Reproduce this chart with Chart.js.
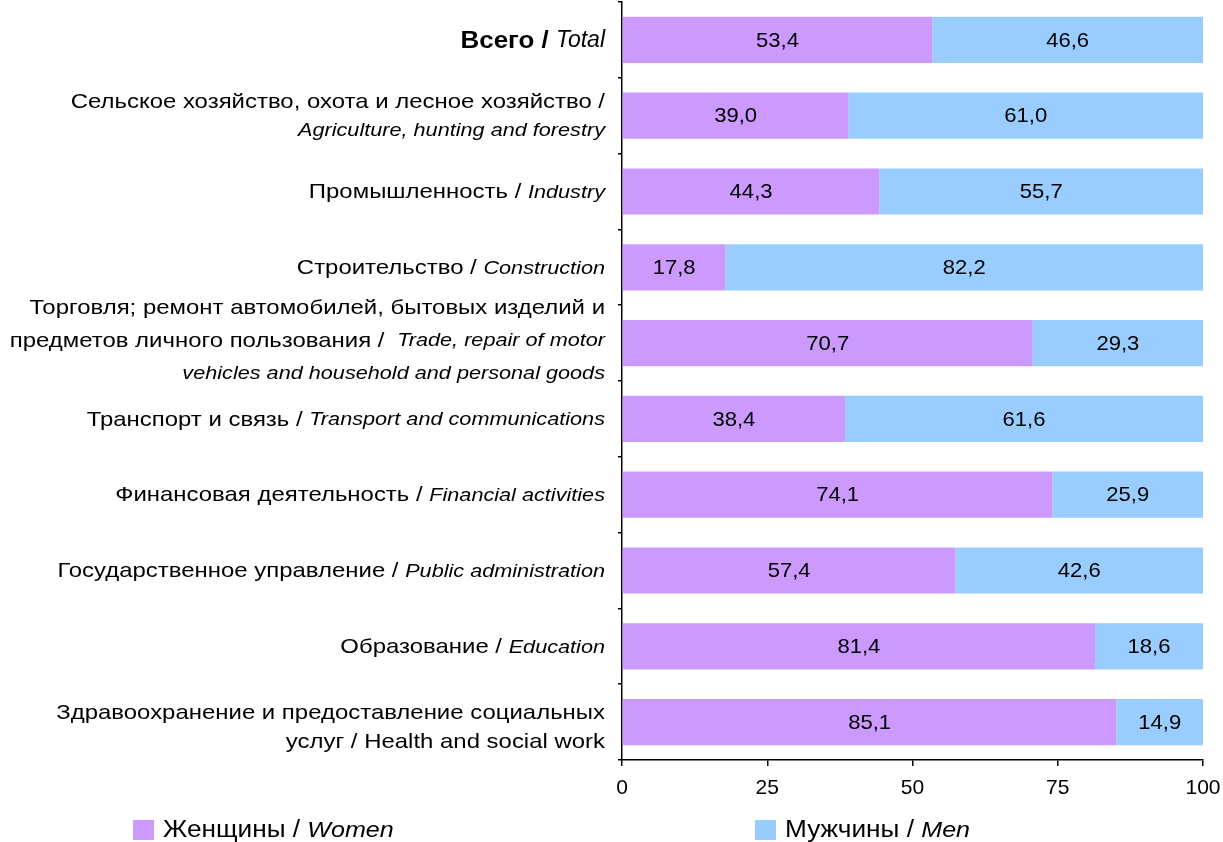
<!DOCTYPE html>
<html>
<head>
<meta charset="utf-8">
<script src="https://cdn.jsdelivr.net/npm/chart.js@4.4.1/dist/chart.umd.min.js"></script>
<style>
html,body{margin:0;padding:0;background:#fff;}
#wrap{position:relative;width:1223px;height:842px;}
</style>
</head>
<body>
<div id="wrap"><canvas id="c" width="1223" height="842"></canvas></div>
<script>
const categories = [
  "Всего / Total",
  "Сельское хозяйство, охота и лесное хозяйство / Agriculture, hunting and forestry",
  "Промышленность / Industry",
  "Строительство / Construction",
  "Торговля; ремонт автомобилей, бытовых изделий и предметов личного пользования / Trade, repair of motor vehicles and household and personal goods",
  "Транспорт и связь / Transport and communications",
  "Финансовая деятельность / Financial activities",
  "Государственное управление / Public administration",
  "Образование / Education",
  "Здравоохранение и предоставление социальных услуг / Health and social work"
];
const women = [53.4, 39.0, 44.3, 17.8, 70.7, 38.4, 74.1, 57.4, 81.4, 85.1];
const men   = [46.6, 61.0, 55.7, 82.2, 29.3, 61.6, 25.9, 42.6, 18.6, 14.9];
const xTicks = [0, 25, 50, 75, 100];
const seriesNames = [["Женщины / ", "Women"], ["Мужчины / ", "Men"]];

// label lines: each line = list of [text, style]; style r=regular, i=italic, b=bold, I=large italic
const labelLines = [
  [[["Всего / ","b"],["Total","I"]]],
  [[["Сельское хозяйство, охота и лесное хозяйство /","r"]],[["Agriculture, hunting and forestry","i"]]],
  [[["Промышленность / ","r"],["Industry","i"]]],
  [[["Строительство / ","r"],["Construction","i"]]],
  [[["Торговля; ремонт автомобилей, бытовых изделий и","r"]],[["предметов личного пользования / ","r"],[" Trade, repair of motor","i"]],[["vehicles and household and personal goods","i"]]],
  [[["Транспорт и связь / ","r"],["Transport and communications","i"]]],
  [[["Финансовая деятельность / ","r"],["Financial activities","i"]]],
  [[["Государственное управление / ","r"],["Public administration","i"]]],
  [[["Образование / ","r"],["Education","i"]]],
  [[["Здравоохранение и предоставление социальных","r"]],[["услуг / Health and social work","r"]]]
];

const FF = '"Liberation Sans", Arial, sans-serif';
const STYLES = {
  b: { font: 'bold 24px ' + FF, sx: 1.08 },
  I: { font: 'italic 23px ' + FF, sx: 1.0 },
  i: { font: 'italic 19px ' + FF, sx: 1.14 },
  r: { font: '21px ' + FF, sx: 1.14 }
};
const labelShift = [0, 0, 0, 0, -3, 0, 0, 0, 0, 5];

const labelPlugin = {
  id: 'labels',
  afterDraw(chart) {
    const ctx = chart.ctx;
    const ys = chart.scales.y;
    ctx.save();
    ctx.fillStyle = '#000';
    ctx.textBaseline = 'middle';
    ctx.textAlign = 'left';
    // category labels
    labelLines.forEach((lines, i) => {
      const cy = ys.getPixelForValue(i) + labelShift[i];
      const lh = lines.length === 3 ? 33 : 29;
      const y0 = cy - (lines.length - 1) * lh / 2;
      lines.forEach((segs, j) => {
        let w = 0;
        segs.forEach(([t, s]) => { ctx.font = STYLES[s].font; w += ctx.measureText(t).width * STYLES[s].sx; });
        let x = 605 - w;
        const y = y0 + j * lh + 1;
        segs.forEach(([t, s]) => {
          const st = STYLES[s];
          ctx.font = st.font;
          ctx.save();
          ctx.translate(x, y);
          ctx.scale(st.sx, 1);
          ctx.fillText(t, 0, 0);
          ctx.restore();
          x += ctx.measureText(t).width * st.sx;
        });
      });
    });
    // value labels
    ctx.font = '21px ' + FF;
    ctx.textAlign = 'center';
    chart.data.datasets.forEach((ds, di) => {
      const meta = chart.getDatasetMeta(di);
      meta.data.forEach((bar, i) => {
        const left = Math.min(bar.x, bar.base), right = Math.max(bar.x, bar.base);
        ctx.save();
        ctx.translate((left + right) / 2, bar.y + 1);
        ctx.scale(1.05, 1);
        ctx.fillText(ds.data[i].toFixed(1).replace('.', ','), 0, 0);
        ctx.restore();
      });
    });
    // legend
    const colors = ['#CC99FF', '#99CCFF'];
    const lx = [133, 755];
    ctx.textAlign = 'left';
    seriesNames.forEach(([a, b], k) => {
      ctx.fillStyle = colors[k];
      ctx.fillRect(lx[k], 820, 21, 20);
      ctx.fillStyle = '#000';
      ctx.save();
      ctx.translate(lx[k] + 30, 831);
      ctx.scale(1.14, 1);
      let x = 0;
      ctx.font = '23px ' + FF;
      ctx.fillText(a, x, 0);
      x += ctx.measureText(a).width;
      ctx.font = 'italic 22px ' + FF;
      ctx.fillText(b, x, 0);
      ctx.restore();
    });
    ctx.restore();
  }
};

new Chart(document.getElementById('c'), {
  type: 'bar',
  data: {
    labels: categories,
    datasets: [
      { label: 'Женщины / Women', data: women, backgroundColor: '#CC99FF', barPercentage: 0.61, categoryPercentage: 1 },
      { label: 'Мужчины / Men', data: men, backgroundColor: '#99CCFF', barPercentage: 0.61, categoryPercentage: 1 }
    ]
  },
  options: {
    indexAxis: 'y',
    responsive: false,
    animation: false,
    layout: { padding: { left: 617, right: 20, top: 2, bottom: 0 } },
    plugins: { legend: { display: false }, tooltip: { enabled: false } },
    scales: {
      x: {
        stacked: true, min: 0, max: 100,
        afterBuildTicks: s => { s.ticks = xTicks.map(v => ({ value: v })); },
        afterFit: s => { s.height = 82; s.paddingLeft = 0; s.paddingRight = 0; },
        border: { display: true, color: '#000', width: 1.5 },
        grid: { drawOnChartArea: false, drawTicks: true, tickLength: 6, color: '#000', lineWidth: 1.5 },
        ticks: { font: { family: FF, size: 21 }, color: '#000', padding: 10, maxRotation: 0 }
      },
      y: {
        stacked: true,
        afterFit: s => { s.width = 5; },
        border: { display: true, color: '#000', width: 1.5 },
        grid: { offset: true, drawOnChartArea: false, drawTicks: true, tickLength: 4, color: '#000', lineWidth: 1.5 },
        ticks: { display: false }
      }
    }
  },
  plugins: [labelPlugin]
});
</script>
</body>
</html>
